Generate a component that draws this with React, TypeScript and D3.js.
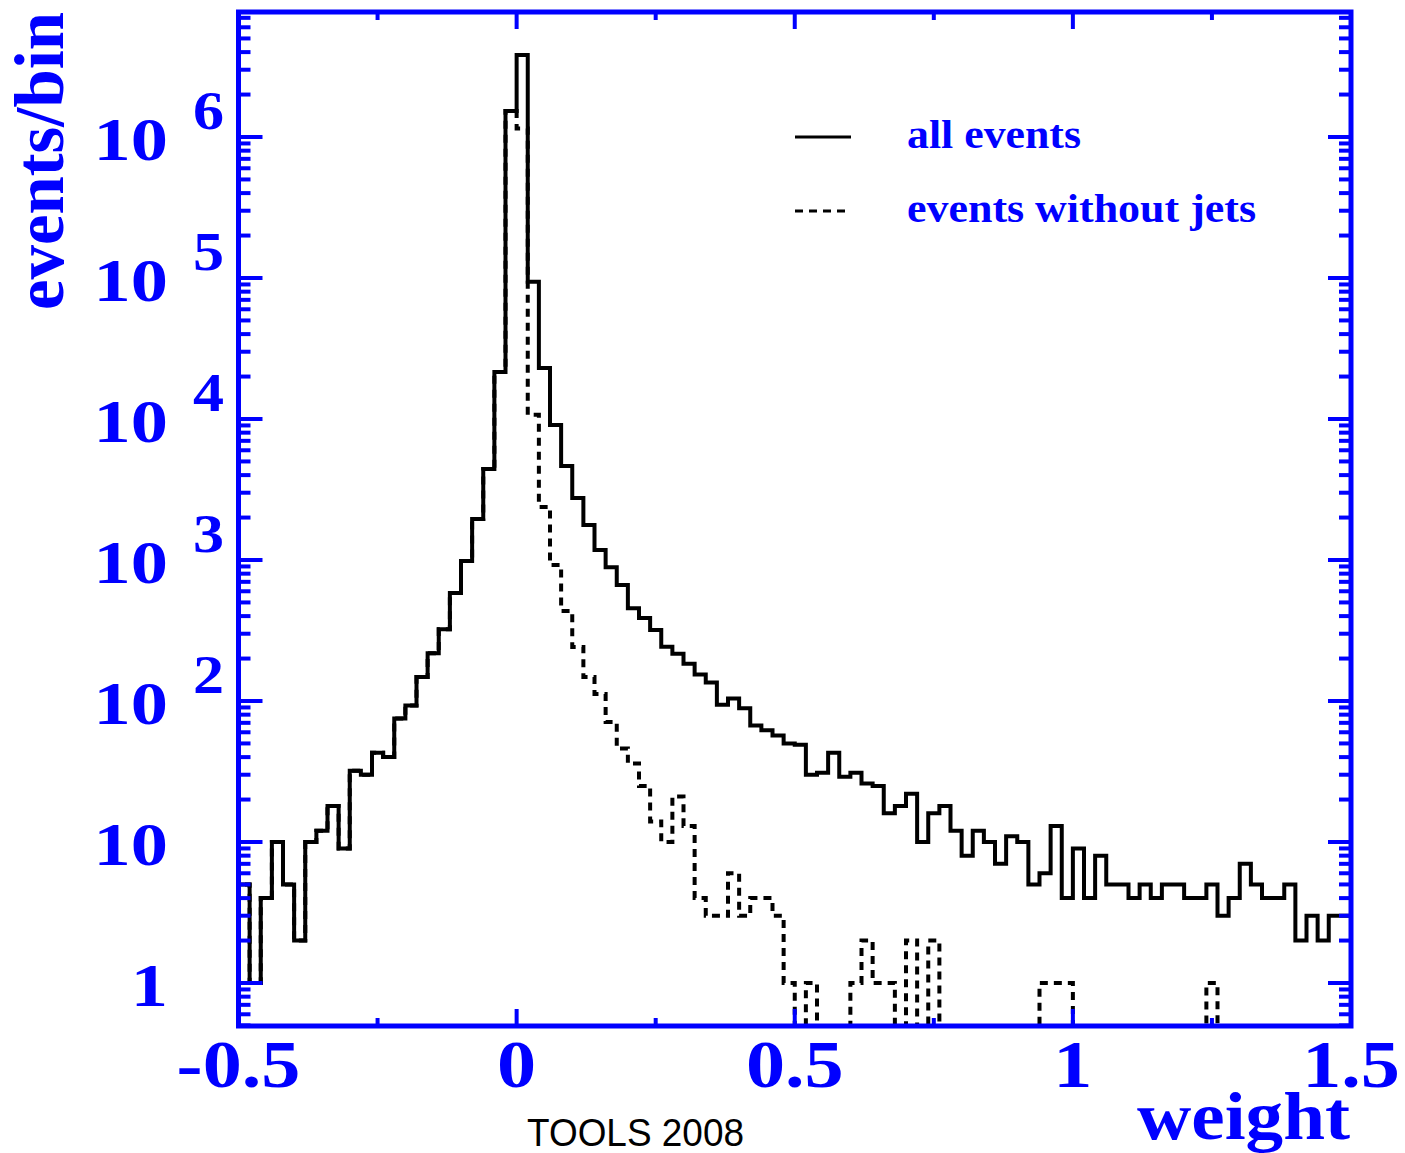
import React from 'react';
import * as d3 from 'd3';

// Histogram binning (weight axis): 100 bins of width 0.02 from -0.5 to 1.5
const binStart = -0.5;
const binWidth = 0.02;

// events/bin, all events
const allEvents = [
  5, 1, 4, 10, 5, 2, 10, 12, 18, 9,
  32, 30, 43, 40, 75, 93, 148, 218, 323, 583,
  983, 1950, 4420, 21500, 1530000, 3820000, 94000, 23000, 9060, 4640,
  2750, 1770, 1175, 890, 665, 455, 388, 319, 243, 216,
  184, 154, 135, 94, 104, 89, 67, 62, 57, 50,
  49, 30, 31, 43, 29, 31, 26, 25, 16, 18,
  22, 10, 16, 18, 12, 8, 12, 10, 7, 11,
  10, 5, 6, 13, 4, 9, 4, 8, 5, 5,
  4, 5, 4, 5, 5, 4, 4, 5, 3, 4,
  7, 5, 4, 4, 5, 2, 3, 2, 3, 3,
];

// events/bin, events without jets
const noJetEvents = [
  5, 1, 4, 10, 5, 2, 10, 12, 18, 9,
  32, 30, 43, 40, 75, 93, 148, 218, 323, 583,
  983, 1950, 4420, 21500, 1530000, 1150000, 10700, 2380, 922, 435,
  242, 148, 112, 71, 46, 36, 25, 14, 10, 21,
  13, 4, 3, 3, 6, 3, 4, 4, 3, 1,
  0, 1, 0, 0, 0, 1, 2, 1, 1, 0,
  2, 0, 2, 0, 0, 0, 0, 0, 0, 0,
  0, 0, 1, 1, 1, 0, 0, 0, 0, 0,
  0, 0, 0, 0, 0, 0, 0, 1, 0, 0,
  0, 0, 0, 0, 0, 0, 0, 0, 0, 0,
];

const xMajorTicks = [-0.5, 0, 0.5, 1, 1.5];
const xTickLabels = ['-0.5', '0', '0.5', '1', '1.5'];
const xMinorTicks = [-0.25, 0.25, 0.75, 1.25];
const yDecades = [0, 1, 2, 3, 4, 5, 6];

const legendItems = [
  { label: 'all events', dash: '' },
  { label: 'events without jets', dash: '8 6' },
];

const BLUE = '#0000ff';
const SERIF = '"Liberation Serif", "DejaVu Serif", serif';

export default function App() {
  const W = 1405, H = 1153;
  const L = 238.5, R = 1351, T = 12, B = 1026;

  const x = d3.scaleLinear().domain([-0.5, 1.5]).range([L, R]);
  const y = d3.scaleLog().domain([Math.pow(10, -0.305), Math.pow(10, 6.8865)]).range([B, T]);

  const histPath = (values: number[]) => {
    const pts: [number, number][] = [];
    pts.push([x(binStart), B + 6]);
    values.forEach((v, i) => {
      const x0 = x(binStart + i * binWidth);
      const x1 = x(binStart + (i + 1) * binWidth);
      const yy = v > 0 ? y(v) : B + 6;
      pts.push([x0, yy], [x1, yy]);
    });
    pts.push([x(binStart + values.length * binWidth), B + 6]);
    return d3.line()(pts) || '';
  };

  // minor y ticks
  const [yMin, yMax] = y.domain();
  const yMinor: number[] = [];
  for (let d = -1; d <= 7; d++) {
    for (let k = 2; k <= 9; k++) {
      const v = k * Math.pow(10, d);
      if (v > yMin && v < yMax) yMinor.push(v);
    }
  }

  return (
    <svg width={W} height={H} style={{ position: 'absolute', left: 0, top: 0, background: '#fff' }}>
      <rect x={0} y={0} width={W} height={H} fill="#fff" />
      <defs>
        <clipPath id="plotClip">
          <rect x={L} y={T} width={R - L} height={B - T} />
        </clipPath>
      </defs>

      {/* histograms */}
      <g clipPath="url(#plotClip)" fill="none" stroke="#000" strokeWidth={4} strokeLinejoin="miter">
        <path d={histPath(noJetEvents)} strokeDasharray="8 6" />
        <path d={histPath(allEvents)} />
      </g>

      {/* frame & ticks */}
      <g stroke={BLUE} fill="none">
        <rect x={L} y={T} width={R - L} height={B - T} strokeWidth={5} />
        {xMajorTicks.map((t) => (
          <g key={'xM' + t} strokeWidth={4}>
            <line x1={x(t)} x2={x(t)} y1={B} y2={B - 17} />
            <line x1={x(t)} x2={x(t)} y1={T} y2={T + 17} />
          </g>
        ))}
        {xMinorTicks.map((t) => (
          <g key={'xm' + t} strokeWidth={4}>
            <line x1={x(t)} x2={x(t)} y1={B} y2={B - 8} />
            <line x1={x(t)} x2={x(t)} y1={T} y2={T + 8} />
          </g>
        ))}
        {yDecades.map((d) => (
          <g key={'yM' + d} strokeWidth={4}>
            <line x1={L} x2={L + 24} y1={y(Math.pow(10, d))} y2={y(Math.pow(10, d))} />
            <line x1={R} x2={R - 23} y1={y(Math.pow(10, d))} y2={y(Math.pow(10, d))} />
          </g>
        ))}
        {yMinor.map((v) => (
          <g key={'ym' + v} strokeWidth={4}>
            <line x1={L} x2={L + 12} y1={y(v)} y2={y(v)} />
            <line x1={R} x2={R - 12} y1={y(v)} y2={y(v)} />
          </g>
        ))}
      </g>

      {/* x tick labels */}
      <g fill={BLUE} fontFamily={SERIF} fontWeight="bold" fontSize={68}>
        {xMajorTicks.map((t, i) => (
          <g key={'xl' + t} transform={`translate(${x(t)},1087) scale(1.15,1)`}>
            <text x={0} y={0} textAnchor="middle">{xTickLabels[i]}</text>
          </g>
        ))}
      </g>

      {/* y tick labels */}
      <g fill={BLUE} fontFamily={SERIF} fontWeight="bold">
        {yDecades.map((d) => {
          const ty = y(Math.pow(10, d));
          return (
            <g key={'yl' + d}>
              <g transform={`translate(168,${ty + 23}) scale(1.2,1)`}>
                <text x={0} y={0} textAnchor="end" fontSize={62}>{d === 0 ? '1' : '10'}</text>
              </g>
              {d >= 2 && (
                <g transform={`translate(193,${ty - 8}) scale(1.15,1)`}>
                  <text x={0} y={0} textAnchor="start" fontSize={54}>{String(d)}</text>
                </g>
              )}
            </g>
          );
        })}
      </g>

      {/* axis titles */}
      <text
        transform="translate(63,12) rotate(-90)"
        textAnchor="end"
        fill={BLUE}
        fontFamily={SERIF}
        fontWeight="bold"
        fontSize={70}
        textLength={298}
        lengthAdjust="spacingAndGlyphs"
      >
        events/bin
      </text>
      <text
        x={1350}
        y={1139}
        textAnchor="end"
        fill={BLUE}
        fontFamily={SERIF}
        fontWeight="bold"
        fontSize={67}
        textLength={213}
        lengthAdjust="spacingAndGlyphs"
      >
        weight
      </text>

      {/* legend */}
      {legendItems.map((it, i) => {
        const ly = 137 + i * 74;
        return (
          <g key={it.label}>
            <line x1={795} x2={851} y1={ly} y2={ly} stroke="#000" strokeWidth={3} strokeDasharray={it.dash || undefined} />
            <text
              x={907}
              y={ly + 11}
              fill={BLUE}
              fontFamily={SERIF}
              fontWeight="bold"
              fontSize={40}
              textLength={i === 0 ? 174 : 349}
              lengthAdjust="spacingAndGlyphs"
            >
              {it.label}
            </text>
          </g>
        );
      })}

      {/* footer */}
      <text
        x={527}
        y={1146}
        fill="#000"
        fontFamily='"Liberation Sans", Arial, sans-serif'
        fontSize={38}
        textLength={217}
        lengthAdjust="spacingAndGlyphs"
      >
        TOOLS 2008
      </text>
    </svg>
  );
}
